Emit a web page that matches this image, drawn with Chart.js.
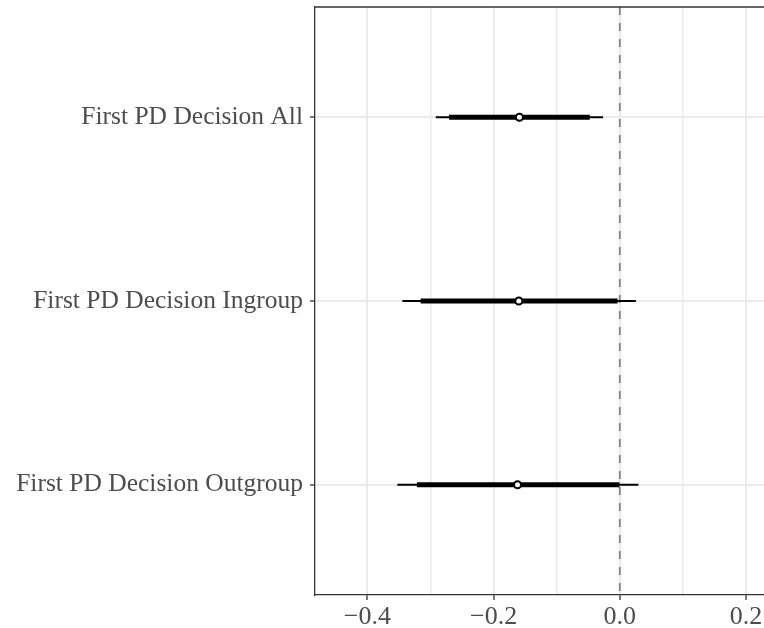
<!DOCTYPE html>
<html>
<head>
<meta charset="utf-8">
<script src="https://cdn.jsdelivr.net/npm/chart.js@4/dist/chart.umd.min.js"></script>
<style>
  body { margin: 0; background: #fff; }
  #wrap { width: 764px; height: 628px; overflow: hidden; }
</style>
</head>
<body>
<div id="wrap"><canvas id="coefChart" width="764" height="628"></canvas></div>
<script>
// one row per model term, top to bottom
const terms = ['First PD Decision All', 'First PD Decision Ingroup', 'First PD Decision Outgroup']
const estimate = [-0.159, -0.160, -0.162]
const innerLow = [-0.270, -0.315, -0.321]
const innerHigh = [-0.048, -0.004, -0.001]
const outerLow = [-0.291, -0.344, -0.352]
const outerHigh = [-0.027, 0.025, 0.029]
const xTicks = [-0.4, -0.3, -0.2, -0.1, 0.0, 0.1, 0.2]
const refLine = 0

const fmt = v => {
    if (Math.abs(v) < 1e-9) return '0.0'
    return v < 0 ? '\u2212' + Math.abs(v).toFixed(1) : v.toFixed(1)
}

const rowPos = terms.map((t, i) => i + 1)

const topBorder = {
    id: 'topBorder',
    afterDraw: chart => {
        const a = chart.chartArea
        const ctx = chart.ctx
        ctx.save()
        ctx.strokeStyle = '#333333'
        ctx.lineWidth = 1.3
        ctx.beginPath()
        ctx.moveTo(a.left, a.top)
        ctx.lineTo(a.right, a.top)
        ctx.stroke()
        ctx.restore()
    }
}

const ctx = document.getElementById('coefChart')

new Chart(ctx, {
    type: 'bar',
    data: {
        datasets: [{
            type: 'line',
            data: [{x: refLine, y: 0.4}, {x: refLine, y: 3.6}],
            borderColor: '#808080',
            borderWidth: 1.8,
            borderDash: [8, 8],
            pointRadius: 0,
            order: 4,
        }, {
            data: rowPos.map((y, i) => ({y: y, x: [outerLow[i], outerHigh[i]]})),
            backgroundColor: '#000000',
            barThickness: 1.2,
            grouped: false,
            order: 3,
        }, {
            data: rowPos.map((y, i) => ({y: y, x: [innerLow[i], innerHigh[i]]})),
            backgroundColor: '#000000',
            barThickness: 4.5,
            grouped: false,
            order: 2,
        }, {
            type: 'scatter',
            data: rowPos.map((y, i) => ({y: y, x: estimate[i]})),
            pointRadius: 3.5,
            pointBorderWidth: 2,
            pointBackgroundColor: '#ffffff',
            pointBorderColor: '#000000',
            order: 1,
        }]
    },
    options: {
        indexAxis: 'y',
        responsive: false,
        animation: false,
        devicePixelRatio: 1,
        layout: {autoPadding: false, padding: {top: 7, left: 0, right: 0, bottom: 0}},
        plugins: {
            legend: {display: false},
            tooltip: {enabled: false},
        },
        scales: {
            x: {
                type: 'linear',
                min: -0.483,
                max: 0.2286,
                afterBuildTicks: scale => {
                    scale.ticks = xTicks.map(v => ({value: v}))
                },
                afterFit: scale => {
                    scale.height = 33
                    scale.paddingLeft = 0
                    scale.paddingRight = 0
                },
                ticks: {
                    autoSkip: false,
                    maxRotation: 0,
                    padding: 2,
                    color: '#4d4d4d',
                    font: {family: 'Liberation Serif', size: 26},
                    callback: (v, i) => i % 2 === 0 ? fmt(v) : '',
                },
                grid: {
                    color: '#ebebeb',
                    lineWidth: c => c.index % 2 === 0 ? 2 : 1.5,
                    tickColor: c => c.index % 2 === 0 ? '#333333' : 'rgba(0,0,0,0)',
                    tickLength: 5,
                    tickWidth: 1.3,
                },
                border: {display: true, color: '#333333', width: 1.3},
            },
            y: {
                type: 'linear',
                min: 0.4,
                max: 3.6,
                reverse: true,
                offset: false,
                afterBuildTicks: scale => {
                    scale.ticks = rowPos.map(v => ({value: v}))
                },
                afterFit: scale => {
                    scale.width = 315
                    scale.paddingTop = 0
                    scale.paddingBottom = 0
                },
                ticks: {
                    autoSkip: false,
                    padding: 7,
                    color: '#4d4d4d',
                    font: {family: 'Liberation Serif', size: 25.5},
                    callback: v => terms[Math.round(v) - 1],
                },
                grid: {
                    offset: false,
                    color: '#ebebeb',
                    lineWidth: 2,
                    tickColor: '#333333',
                    tickLength: 5,
                    tickWidth: 1.3,
                },
                border: {display: true, color: '#333333', width: 1.3},
            }
        }
    },
    plugins: [topBorder]
})
</script>
</body>
</html>
